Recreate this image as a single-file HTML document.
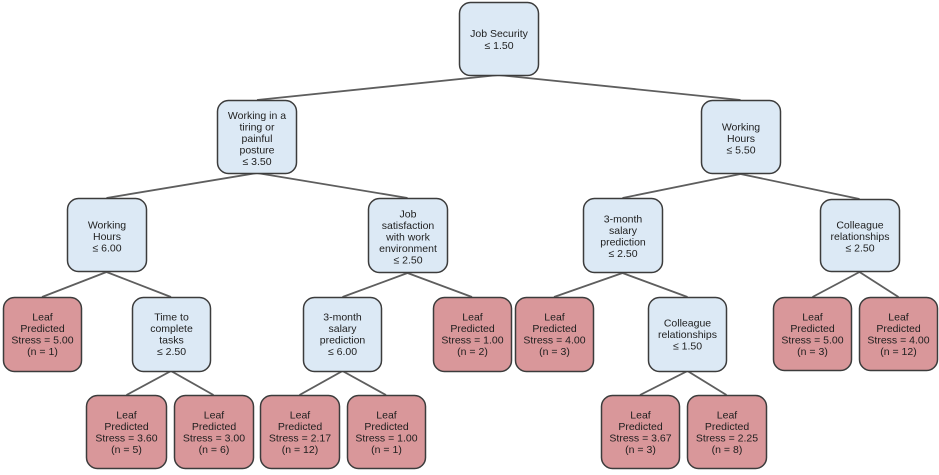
<!DOCTYPE html>
<html><head><meta charset="utf-8"><style>
html,body{margin:0;padding:0;background:#fff;width:939px;height:475px;overflow:hidden}
svg{display:block}
text{font-family:"Liberation Sans",Arial,sans-serif;font-size:10.5px;fill:#1e1e1e;text-anchor:middle}
.b{fill:#dce9f5;stroke:#3c3c3c;stroke-width:1.5}
.r{fill:#d9979a;stroke:#3c3c3c;stroke-width:1.5}
.l{stroke:#5e5e5e;stroke-width:1.8;fill:none}
.s{fill:#000;opacity:0.12}
</style></head><body>
<svg width="939" height="475" viewBox="0 0 939 475" xmlns="http://www.w3.org/2000/svg">
<g class="l">
<line x1="498.5" y1="75" x2="257" y2="100"/>
<line x1="498.5" y1="75" x2="740.5" y2="100"/>
<line x1="257" y1="173" x2="106.5" y2="198"/>
<line x1="257" y1="173" x2="407.5" y2="198"/>
<line x1="740.5" y1="174" x2="622.5" y2="198"/>
<line x1="740.5" y1="174" x2="859.5" y2="199"/>
<line x1="106.5" y1="272" x2="42" y2="297"/>
<line x1="106.5" y1="272" x2="171" y2="297"/>
<line x1="407.5" y1="273" x2="342.5" y2="297"/>
<line x1="407.5" y1="273" x2="472" y2="297"/>
<line x1="622.5" y1="273" x2="554" y2="297"/>
<line x1="622.5" y1="273" x2="687.5" y2="297"/>
<line x1="859.5" y1="272" x2="812.5" y2="297"/>
<line x1="859.5" y1="272" x2="898.5" y2="297"/>
<line x1="171" y1="371" x2="126.5" y2="395"/>
<line x1="171" y1="371" x2="213.5" y2="395"/>
<line x1="342.5" y1="371" x2="299.5" y2="395"/>
<line x1="342.5" y1="371" x2="386" y2="395"/>
<line x1="687.5" y1="371" x2="640" y2="395"/>
<line x1="687.5" y1="371" x2="726.5" y2="395"/>
</g>

<!-- Root -->
<rect class="b" x="459.5" y="2.5" width="79" height="73" rx="11"/>
<text x="499" y="37">Job Security</text>
<text x="499" y="49">≤ 1.50</text>

<!-- Level 1 -->
<rect class="b" x="217.5" y="100.5" width="79" height="73" rx="11"/>
<text x="257" y="119">Working in a</text>
<text x="257" y="130.5">tiring or</text>
<text x="257" y="142">painful</text>
<text x="257" y="153.5">posture</text>
<text x="257" y="165">≤ 3.50</text>

<rect class="b" x="701.5" y="100.5" width="79" height="73" rx="11"/>
<text x="741" y="130.5">Working</text>
<text x="741" y="142">Hours</text>
<text x="741" y="153.5">≤ 5.50</text>

<!-- Level 2 -->
<rect class="b" x="67.5" y="198.5" width="79" height="73" rx="11"/>
<text x="107" y="228.5">Working</text>
<text x="107" y="240">Hours</text>
<text x="107" y="251.5">≤ 6.00</text>

<rect class="b" x="368.5" y="198.5" width="79" height="74" rx="11"/>
<text x="408" y="217.5">Job</text>
<text x="408" y="229">satisfaction</text>
<text x="408" y="240.5">with work</text>
<text x="408" y="252">environment</text>
<text x="408" y="263.5">≤ 2.50</text>

<rect class="b" x="583.5" y="198.5" width="79" height="74" rx="11"/>
<text x="623" y="222.5">3-month</text>
<text x="623" y="234">salary</text>
<text x="623" y="245.5">prediction</text>
<text x="623" y="257">≤ 2.50</text>

<rect class="b" x="820.5" y="199.5" width="79" height="72" rx="11"/>
<text x="860" y="228.5">Colleague</text>
<text x="860" y="240">relationships</text>
<text x="860" y="251.5">≤ 2.50</text>

<!-- Level 3 -->
<rect class="r" x="3.5" y="297.5" width="78" height="74" rx="11"/>
<text x="42.5" y="320.5">Leaf</text>
<text x="42.5" y="332">Predicted</text>
<text x="42.5" y="343.5">Stress = 5.00</text>
<text x="42.5" y="355">(n = 1)</text>

<rect class="b" x="132.5" y="297.5" width="78" height="74" rx="11"/>
<text x="171.5" y="320.5">Time to</text>
<text x="171.5" y="332">complete</text>
<text x="171.5" y="343.5">tasks</text>
<text x="171.5" y="355">≤ 2.50</text>

<rect class="b" x="303.5" y="297.5" width="78" height="74" rx="11"/>
<text x="342.5" y="320.5">3-month</text>
<text x="342.5" y="332">salary</text>
<text x="342.5" y="343.5">prediction</text>
<text x="342.5" y="355">≤ 6.00</text>

<rect class="r" x="433.5" y="297.5" width="78" height="74" rx="11"/>
<text x="472.5" y="320.5">Leaf</text>
<text x="472.5" y="332">Predicted</text>
<text x="472.5" y="343.5">Stress = 1.00</text>
<text x="472.5" y="355">(n = 2)</text>

<rect class="r" x="515.5" y="297.5" width="78" height="74" rx="11"/>
<text x="554.5" y="320.5">Leaf</text>
<text x="554.5" y="332">Predicted</text>
<text x="554.5" y="343.5">Stress = 4.00</text>
<text x="554.5" y="355">(n = 3)</text>

<rect class="b" x="648.5" y="297.5" width="78" height="74" rx="11"/>
<text x="687.5" y="326.5">Colleague</text>
<text x="687.5" y="338">relationships</text>
<text x="687.5" y="349.5">≤ 1.50</text>

<rect class="r" x="773.5" y="297.5" width="78" height="73" rx="11"/>
<text x="812.5" y="320.5">Leaf</text>
<text x="812.5" y="332">Predicted</text>
<text x="812.5" y="343.5">Stress = 5.00</text>
<text x="812.5" y="355">(n = 3)</text>

<rect class="r" x="859.5" y="297.5" width="78" height="73" rx="11"/>
<text x="898.5" y="320.5">Leaf</text>
<text x="898.5" y="332">Predicted</text>
<text x="898.5" y="343.5">Stress = 4.00</text>
<text x="898.5" y="355">(n = 12)</text>

<!-- Level 4 -->
<rect class="r" x="86.5" y="395.5" width="80" height="73" rx="11"/>
<text x="126.5" y="418.5">Leaf</text>
<text x="126.5" y="430">Predicted</text>
<text x="126.5" y="441.5">Stress = 3.60</text>
<text x="126.5" y="453">(n = 5)</text>

<rect class="r" x="174.5" y="395.5" width="79" height="73" rx="11"/>
<text x="214" y="418.5">Leaf</text>
<text x="214" y="430">Predicted</text>
<text x="214" y="441.5">Stress = 3.00</text>
<text x="214" y="453">(n = 6)</text>

<rect class="r" x="260.5" y="395.5" width="79" height="73" rx="11"/>
<text x="300" y="418.5">Leaf</text>
<text x="300" y="430">Predicted</text>
<text x="300" y="441.5">Stress = 2.17</text>
<text x="300" y="453">(n = 12)</text>

<rect class="r" x="347.5" y="395.5" width="78" height="73" rx="11"/>
<text x="386.5" y="418.5">Leaf</text>
<text x="386.5" y="430">Predicted</text>
<text x="386.5" y="441.5">Stress = 1.00</text>
<text x="386.5" y="453">(n = 1)</text>

<rect class="r" x="601.5" y="395.5" width="78" height="73" rx="11"/>
<text x="640.5" y="418.5">Leaf</text>
<text x="640.5" y="430">Predicted</text>
<text x="640.5" y="441.5">Stress = 3.67</text>
<text x="640.5" y="453">(n = 3)</text>

<rect class="r" x="687.5" y="395.5" width="79" height="73" rx="11"/>
<text x="727" y="418.5">Leaf</text>
<text x="727" y="430">Predicted</text>
<text x="727" y="441.5">Stress = 2.25</text>
<text x="727" y="453">(n = 8)</text>
</svg>
</body></html>
